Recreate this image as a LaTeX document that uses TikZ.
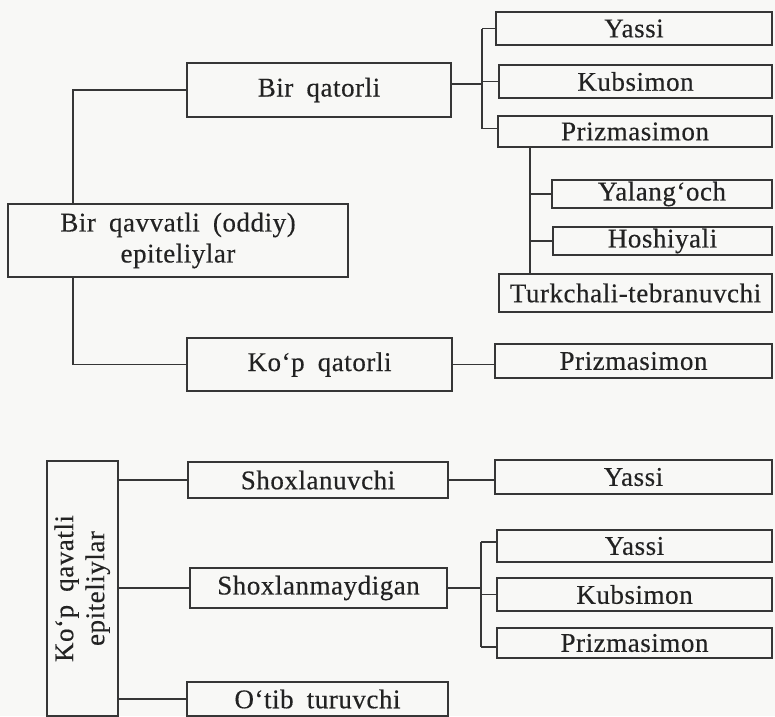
\documentclass[tikz,border=0pt]{standalone}
\usepackage{fontspec}
\usepackage{graphicx}
\setmainfont{Liberation Serif}[LetterSpace=2, WordSpace=1.8, FakeBold=0.35]
\definecolor{ink}{HTML}{363636}
\definecolor{txt}{HTML}{222222}
\definecolor{paper}{HTML}{F8F8F6}
\begin{document}
\begin{tikzpicture}[x=1pt,y=-1pt,
  bx/.style={draw=ink, line width=1.8pt, inner sep=0pt, text=txt,
    font=\fontsize{27}{31}\selectfont, align=center},
  ln/.style={draw=ink, line width=1.5pt}]
\fill[paper] (0,0) rectangle (775,716);
\useasboundingbox (0,0) rectangle (775,716);
% level 1
\node[bx, minimum width=340pt, minimum height=73pt] (bqv) at (178,240.5) {Bir qavvatli (oddiy)\\epiteliylar};
\node[bx, minimum width=71pt, minimum height=255pt] (kqv) at (82.5,588.5)
  {\rotatebox{90}{\begin{tabular}{@{}c@{}}Ko‘p qavatli\\epiteliylar\end{tabular}}};
% level 2
\node[bx, minimum width=264pt, minimum height=54pt] (bq) at (319,90) {Bir qatorli};
\node[bx, minimum width=265pt, minimum height=53pt] (kq) at (319.5,364.5) {Ko‘p qatorli};
\node[bx, minimum width=260pt, minimum height=36pt] (sh) at (318,480) {Shoxlanuvchi};
\node[bx, minimum width=257pt, minimum height=40pt] (sm) at (318.5,588) {Shoxlanmaydigan};
\node[bx, minimum width=261pt, minimum height=34pt] (ot) at (317.5,699) {O‘tib turuvchi};
% level 3
\node[bx, minimum width=276pt, minimum height=33pt] (y1) at (634,28.5) {Yassi};
\node[bx, minimum width=273pt, minimum height=33pt] (k1) at (635.5,81.5) {Kubsimon};
\node[bx, minimum width=274pt, minimum height=31pt] (p1) at (635,131.5) {Prizmasimon};
\node[bx, minimum width=220pt, minimum height=28pt] (ya) at (662,194) {Yalang‘och};
\node[bx, minimum width=219pt, minimum height=28pt] (ho) at (662.5,241) {Hoshiyali};
\node[bx, minimum width=273pt, minimum height=38pt] (tu) at (635.5,293) {Turkchali-tebranuvchi};
\node[bx, minimum width=277pt, minimum height=34pt] (p2) at (633.5,361) {Prizmasimon};
\node[bx, minimum width=277pt, minimum height=34pt] (y2) at (633.5,477) {Yassi};
\node[bx, minimum width=275pt, minimum height=32pt] (y3) at (634.5,546) {Yassi};
\node[bx, minimum width=275pt, minimum height=33pt] (k2) at (634.5,594.5) {Kubsimon};
\node[bx, minimum width=275pt, minimum height=30pt] (p3) at (634.5,643) {Prizmasimon};
% bus coordinates
\coordinate (b1) at (482,0);
\coordinate (c2) at (530,0);
\coordinate (b3) at (481,0);
\coordinate (a1) at (73,0);
% connectors: top tree
\draw[ln] (bq.west) -| (bqv.north -| a1);
\draw[ln] (bqv.south -| a1) |- (kq.west);
\draw[ln] ([yshift=6pt]bq.east) -- ([yshift=6pt]bq.east -| b1);
\draw[ln] (y1.west -| b1) -- ([yshift=3pt]p1.west -| b1);
\draw[ln] (y1.west -| b1) -- (y1.west);
\draw[ln] (k1.west -| b1) -- (k1.west);
\draw[ln] ([yshift=3pt]p1.west -| b1) -- ([yshift=3pt]p1.west);
\draw[ln] (p1.south -| c2) -- (tu.north -| c2);
\draw[ln] (ya.west -| c2) -- (ya.west);
\draw[ln] (ho.west -| c2) -- (ho.west);
\draw[ln] (kq.east) -- (kq.east -| p2.west);
% connectors: bottom tree
\draw[ln] (kqv.east |- sh.west) -- (sh.west);
\draw[ln] (kqv.east |- sm.west) -- (sm.west);
\draw[ln] (kqv.east |- ot.west) -- (ot.west);
\draw[ln] (sh.east) -- (sh.east -| y2.west);
\draw[ln] (sm.east) -- (sm.east -| b3);
\draw[ln] ([yshift=4pt]y3.west -| b3) -- ([yshift=-4pt]p3.west -| b3);
\draw[ln] ([yshift=4pt]y3.west -| b3) -- ([yshift=4pt]y3.west);
\draw[ln] (k2.west -| b3) -- (k2.west);
\draw[ln] ([yshift=-4pt]p3.west -| b3) -- ([yshift=-4pt]p3.west);
\end{tikzpicture}
\end{document}
